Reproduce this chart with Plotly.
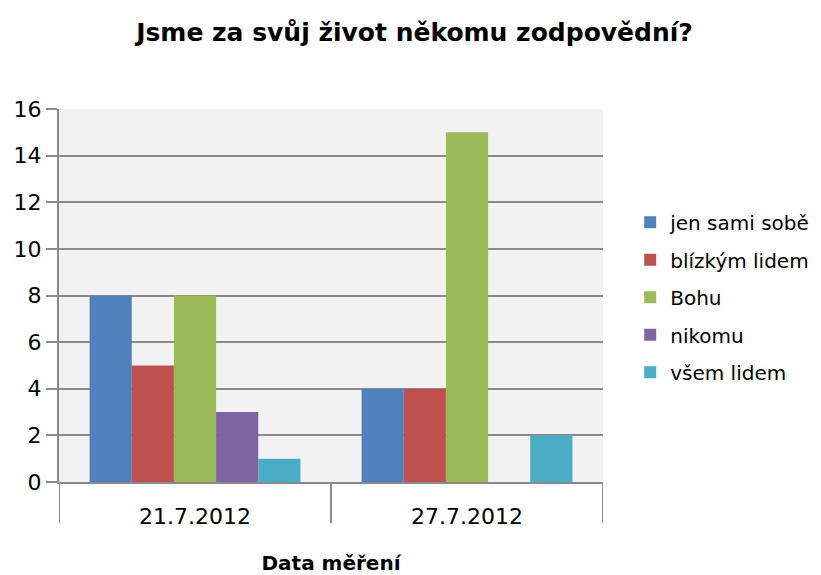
import plotly.graph_objects as go

categories = ["21.7.2012", "27.7.2012"]
series_names = ["jen sami sobě", "blízkým lidem", "Bohu", "nikomu", "všem lidem"]
values = {
    "jen sami sobě": [8, 4],
    "blízkým lidem": [5, 4],
    "Bohu": [8, 15],
    "nikomu": [3, 0],
    "všem lidem": [1, 2],
}
colors = ["#4F81BD", "#C0504D", "#9BBB59", "#8064A2", "#4BACC6"]
y_ticks = [0, 2, 4, 6, 8, 10, 12, 14, 16]

FONT = "DejaVu Sans, sans-serif"
xpos = list(range(len(categories)))

fig = go.Figure()
for name, col in zip(series_names, colors):
    fig.add_trace(go.Bar(x=xpos, y=values[name], name=name, legendgroup=name,
                         marker=dict(color=col, line=dict(width=0))))

grid = "#8A8A8A"
fig.update_layout(
    width=813, height=567,
    margin=dict(l=51, r=218, t=101, b=93, autoexpand=False),
    paper_bgcolor="white", plot_bgcolor="#F2F2F2",
    barmode="group", bargap=0.225, bargroupgap=0,
    title=dict(text="<b>Jsme za svůj život někomu zodpovědní?</b>",
               x=0.5, xanchor="center", y=0.958, yanchor="middle",
               font=dict(family=FONT, size=25, color="black")),
    font=dict(family=FONT, color="black"),
    legend=dict(x=1.05, xanchor="left", y=0.495, yanchor="middle",
                font=dict(family=FONT, size=20, color="black"),
                tracegroupgap=8.5, itemwidth=30),
    showlegend=True,
)
fig.update_xaxes(range=[-0.5, len(categories) - 0.5], tickvals=xpos, ticktext=categories,
                 tickfont=dict(size=22, family=FONT), showgrid=False, automargin=False,
                 showline=True, linecolor=grid, linewidth=2, ticks="",
                 ticklabelstandoff=14,
                 title=dict(text="<b>Data měření</b>", font=dict(size=20, family=FONT), standoff=44))
fig.update_yaxes(range=[0, 16], tickvals=y_ticks, showgrid=True, gridcolor=grid, gridwidth=1.5,
                 showline=True, linecolor=grid, linewidth=2, automargin=False,
                 ticks="outside", ticklen=11, tickcolor=grid, tickwidth=1.5,
                 tickfont=dict(size=22, family=FONT), zeroline=False)

for b in [-0.5 + i for i in range(len(categories) + 1)]:
    fig.add_shape(type="line", xref="x", yref="paper", x0=b, x1=b, y0=0, y1=-0.11,
                  line=dict(color=grid, width=2))

fig.write_html("out.html")
